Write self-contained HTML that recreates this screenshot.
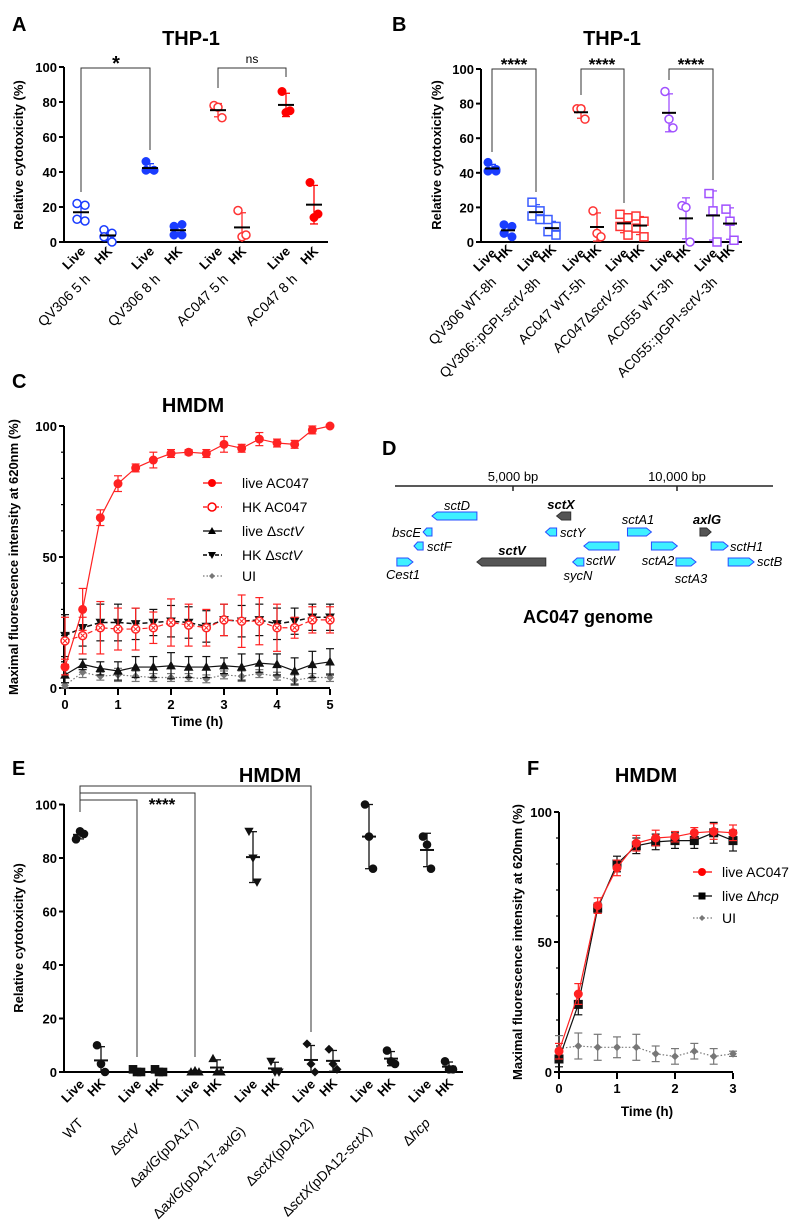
<!DOCTYPE html>
<html><head><meta charset="utf-8"><style>
body{margin:0;background:#fff}
svg{display:block;font-family:"Liberation Sans",Arial,sans-serif}
.b{font-weight:bold}
.t{font-size:13px;font-weight:bold}
.g{font-size:14px}
</style></head><body>
<svg id="fig" width="800" height="1229" viewBox="0 0 800 1229">
<text x="12" y="31" font-size="20" class="b">A</text>
<text x="191" y="45" font-size="20" class="b" text-anchor="middle">THP-1</text>
<text x="392" y="31" font-size="20" class="b">B</text>
<text x="612" y="45" font-size="20" class="b" text-anchor="middle">THP-1</text>
<text x="12" y="388" font-size="20" class="b">C</text>
<text x="193" y="412" font-size="20" class="b" text-anchor="middle">HMDM</text>
<text x="382" y="455" font-size="20" class="b">D</text>
<text x="12" y="775" font-size="20" class="b">E</text>
<text x="270" y="782" font-size="20" class="b" text-anchor="middle">HMDM</text>
<text x="527" y="775" font-size="20" class="b">F</text>
<text x="646" y="782" font-size="20" class="b" text-anchor="middle">HMDM</text>

<text transform="translate(23,155) rotate(-90)" font-size="13" class="b" text-anchor="middle">Relative cytotoxicity (%)</text>
<text transform="translate(441,155) rotate(-90)" font-size="13" class="b" text-anchor="middle">Relative cytotoxicity (%)</text>
<text transform="translate(18,557) rotate(-90)" font-size="13" class="b" text-anchor="middle">Maximal fluorescence intensity at 620nm (%)</text>
<text x="197" y="726" font-size="13.5" class="b" text-anchor="middle">Time (h)</text>
<text transform="translate(23,938) rotate(-90)" font-size="13" class="b" text-anchor="middle">Relative cytotoxicity (%)</text>
<text transform="translate(522,942) rotate(-90)" font-size="13" class="b" text-anchor="middle">Maximal fluorescence intensity at 620nm (%)</text>
<text x="647" y="1116" font-size="13.5" class="b" text-anchor="middle">Time (h)</text>

<g class="g" text-anchor="end">
<text transform="translate(91,280) rotate(-45)">QV306 5 h</text>
<text transform="translate(161,280) rotate(-45)">QV306 8 h</text>
<text transform="translate(229,280) rotate(-45)">AC047 5 h</text>
<text transform="translate(298,280) rotate(-45)">AC047 8 h</text>
</g>
<g class="g" text-anchor="end">
<text transform="translate(497,283) rotate(-45)">QV306 WT-8h</text>
<text transform="translate(541,283) rotate(-45)">QV306::pGPI-<tspan font-style="italic">sctV</tspan>-8h</text>
<text transform="translate(586,283) rotate(-45)">AC047 WT-5h</text>
<text transform="translate(629,283) rotate(-45)">AC047Δ<tspan font-style="italic">sctV</tspan>-5h</text>
<text transform="translate(674,283) rotate(-45)">AC055 WT-3h</text>
<text transform="translate(718,283) rotate(-45)">AC055::pGPI-<tspan font-style="italic">sctV</tspan>-3h</text>
</g>
<g class="g" text-anchor="end">
<text transform="translate(84,1124) rotate(-45)">WT</text>
<text transform="translate(141,1130) rotate(-45)">Δ<tspan font-style="italic">sctV</tspan></text>
<text transform="translate(199,1124) rotate(-45)">Δ<tspan font-style="italic">axlG</tspan>(pDA17)</text>
<text transform="translate(246,1132) rotate(-45)">Δ<tspan font-style="italic">axlG</tspan>(pDA17-<tspan font-style="italic">axlG</tspan>)</text>
<text transform="translate(314,1124) rotate(-45)">Δ<tspan font-style="italic">sctX</tspan>(pDA12)</text>
<text transform="translate(373,1132) rotate(-45)">Δ<tspan font-style="italic">sctX</tspan>(pDA12-<tspan font-style="italic">sctX</tspan>)</text>
<text transform="translate(431,1124) rotate(-45)">Δ<tspan font-style="italic">hcp</tspan></text>
</g>

<g fill="none" stroke="#333" stroke-width="1">
<polyline points="81,192 81,68 150,68 150,150"/>
<polyline points="218,88 218,68 286,68 286,77"/>
</g>
<text x="116" y="70" font-size="20" class="b" text-anchor="middle">*</text>
<text x="252" y="63" font-size="12" text-anchor="middle">ns</text>
<g fill="none" stroke="#333" stroke-width="1">
<polyline points="492,152 492,69 536,69 536,192"/>
<polyline points="581,95 581,69 624,69 624,203"/>
<polyline points="669,80 669,69 713,69 713,180"/>
</g>
<g font-size="17" class="b" text-anchor="middle">
<text x="514" y="70">****</text><text x="602" y="70">****</text><text x="691" y="70">****</text>
</g>
<g fill="none" stroke="#333" stroke-width="1">
<polyline points="80,812 80,786 311,786 311,1032"/>
<polyline points="80,793 195,793 195,1057"/>
<polyline points="80,800 137,800 137,1057"/>
</g>
<text x="162" y="810" font-size="17" class="b" text-anchor="middle">****</text>

<g font-size="14">
<line x1="203" y1="483" x2="222" y2="483" stroke="#f00" stroke-width="1.2"/><circle cx="212" cy="483" r="4" fill="#f00"/><text x="242" y="488">live AC047</text>
<line x1="203" y1="507" x2="222" y2="507" stroke="#f00" stroke-width="1.2" stroke-dasharray="4,2"/><circle cx="212" cy="507" r="4" fill="#fff" stroke="#f00" stroke-width="1.5"/><text x="242" y="512">HK AC047</text>
<line x1="203" y1="531" x2="222" y2="531" stroke="#000" stroke-width="1.2"/><path d="M212,527 l4,7 h-8z" fill="#000"/><text x="242" y="536">live Δ<tspan font-style="italic">sctV</tspan></text>
<line x1="203" y1="555" x2="222" y2="555" stroke="#000" stroke-width="1.5" stroke-dasharray="4,2"/><path d="M212,559 l4,-7 h-8z" fill="#000"/><text x="242" y="560">HK Δ<tspan font-style="italic">sctV</tspan></text>
<line x1="203" y1="576" x2="222" y2="576" stroke="#777" stroke-width="1.2" stroke-dasharray="1.5,2"/><path d="M212,573 l3,3 -3,3 -3,-3z" fill="#777"/><text x="242" y="581">UI</text>
</g>
<g font-size="14">
<line x1="693" y1="872" x2="712" y2="872" stroke="#f00" stroke-width="1.2"/><circle cx="702" cy="872" r="4" fill="#f00"/><text x="722" y="877">live AC047</text>
<line x1="693" y1="896" x2="712" y2="896" stroke="#000" stroke-width="1.2"/><rect x="698.5" y="892.5" width="7" height="7" fill="#000"/><text x="722" y="901">live Δ<tspan font-style="italic">hcp</tspan></text>
<line x1="693" y1="918" x2="712" y2="918" stroke="#777" stroke-width="1.2" stroke-dasharray="1.5,2"/><path d="M702,915 l3,3 -3,3 -3,-3z" fill="#777"/><text x="722" y="923">UI</text>
</g>

<g>
<line x1="395" y1="486" x2="773" y2="486" stroke="#222" stroke-width="1.5"/>
<line x1="513" y1="486" x2="513" y2="491" stroke="#222" stroke-width="1.5"/>
<line x1="677" y1="486" x2="677" y2="491" stroke="#222" stroke-width="1.5"/>
<text x="513" y="481" font-size="13" text-anchor="middle">5,000 bp</text>
<text x="677" y="481" font-size="13" text-anchor="middle">10,000 bp</text>
<g id="genes"></g>
<g font-size="13" font-style="italic">
<text x="457" y="510" text-anchor="middle">sctD</text>
<text x="561" y="509" text-anchor="middle" font-weight="bold">sctX</text>
<text x="421" y="537" text-anchor="end">bscE</text>
<text x="427" y="551">sctF</text>
<text x="403" y="579" text-anchor="middle">Cest1</text>
<text x="512" y="555" text-anchor="middle" font-weight="bold">sctV</text>
<text x="560" y="537">sctY</text>
<text x="638" y="524" text-anchor="middle">sctA1</text>
<text x="707" y="524" text-anchor="middle" font-weight="bold">axlG</text>
<text x="586" y="565">sctW</text>
<text x="578" y="580" text-anchor="middle">sycN</text>
<text x="658" y="565" text-anchor="middle">sctA2</text>
<text x="691" y="583" text-anchor="middle">sctA3</text>
<text x="730" y="551">sctH1</text>
<text x="757" y="566">sctB</text>
</g>
<text x="588" y="623" font-size="18" class="b" text-anchor="middle">AC047 genome</text>
</g>
<g id="marks"></g>
</svg>
<script>
const aGroups = ["QV306 5 h live","QV306 5 h HK","QV306 8 h live","QV306 8 h HK","AC047 5 h live","AC047 5 h HK","AC047 8 h live","AC047 8 h HK"];
const aValues = [[22,21,13,12],[7,5,3,0],[46,41,41,41],[9,10,4,4],[78,77,71],[18,3,4],[86,74,75],[34,14,16]];
const aColors = ["#1a3cff","#1a3cff","#1a3cff","#1a3cff","#f33","#f33","#f00","#f00"];
const aFilled = [0,0,1,1,0,0,1,1];
const aTicks = [0,20,40,60,80,100];
const bGroups = ["QV306 WT live","QV306 WT HK","QV306 pGPI live","QV306 pGPI HK","AC047 WT live","AC047 WT HK","AC047 dsctV live","AC047 dsctV HK","AC055 WT live","AC055 WT HK","AC055 pGPI live","AC055 pGPI HK"];
const bValues = [[46,41,41,42],[10,9,5,3],[23,18,15,13],[13,9,6,4],[77,77,71],[18,5,3],[16,14,9,4],[15,12,8,3],[87,71,66],[21,20,0],[28,18,0],[19,12,1]];
const bColors = ["#1a3cff","#1a3cff","#3a5cff","#3a5cff","#f33","#f33","#f33","#f33","#a050ff","#a050ff","#a050ff","#a050ff"];
const bShapes = ["fc","fc","os","os","oc","oc","os","os","oc","oc","os","os"];
const bTicks = [0,20,40,60,80,100];
const cTimes = [0,0.333,0.667,1,1.333,1.667,2,2.333,2.667,3,3.333,3.667,4,4.333,4.667,5];
const cLiveAC047 = [8,30,65,78,84,87,89.5,90,89.5,93,91.5,95,93.5,93,98.5,100];
const cLiveAC047Err = [3,8,3,3,1.5,3,1.5,1,1.5,3,1.5,2.5,1.5,1.5,1.5,0];
const cHKAC047 = [18,20,23,22.5,22.5,23,25,24,23,26,25.5,25.5,23,23,26,26];
const cHKAC047Err = [9,7,10,8,8,6,9,8,7,6,10,9,9,4,5,5];
const cLiveSctV = [5,9,7.5,6.5,8,8,8.5,8,8,8.5,8,9.5,9,6.5,9,10];
const cLiveSctVErr = [3,2,2.5,3.5,4,4,5,4,4,3,5,3.5,4,5,5,5];
const cHKSctV = [20,23,25,25,24.5,25,25.5,25,23.5,26,25.5,26,24.5,25.5,27,27];
const cHKSctVErr = [8,7,7,7,6,5,6,6,6,6,6,6,6,5,5,5];
const cUI = [1,6,4.5,5,4.5,4,4,4,3.5,5,4.5,5.5,4.5,3,4,4];
const cUIErr = [1,2,1.5,2.5,2,1.5,1.5,1.5,1.5,1.5,2,1.5,1.5,2,1.5,1.5];
const cXTicks = [0,1,2,3,4,5];
const cYTicks = [0,50,100];
const dGenes = ["sctD","bscE","sctF","Cest1","sctV","sctX","sctY","sctW","sycN","sctA1","sctA2","sctA3","axlG","sctH1","sctB"];
const dStart = [2530,2260,1980,1460,3900,6330,5990,7160,6820,8490,9220,9970,10700,11040,11560];
const dEnd = [3900,2530,2260,1950,6000,6760,6330,8230,7160,9220,10010,10580,11040,11560,12350];
const dStrand = [-1,-1,-1,1,-1,-1,-1,-1,-1,1,1,1,1,1,1];
const dRow = [0,1,2,3,3,0,1,2,3,1,2,3,1,2,3];
const dHighlight = [0,0,0,0,1,1,0,0,0,0,0,0,1,0,0];
const eGroups = ["WT live","WT HK","sctV live","sctV HK","pDA17 live","pDA17 HK","pDA17-axlG live","pDA17-axlG HK","pDA12 live","pDA12 HK","pDA12-sctX live","pDA12-sctX HK","hcp live","hcp HK"];
const eValues = [[87,90,89],[10,3,0],[1,0,0],[1,0,0],[0,0.5,0],[5,0,0],[90,80,71],[4,0,0],[10.5,3,0],[8.5,3,1],[100,88,76],[8,4,3],[88,85,76],[4,1,1]];
const eShapes = ["fc","fc","fs","fs","tu","tu","td","td","fd","fd","fc","fc","fc","fc"];
const eTicks = [0,20,40,60,80,100];
const fTimes = [0,0.333,0.667,1,1.333,1.667,2,2.333,2.667,3];
const fLiveAC047 = [8,30,64,78.5,88,90,90.5,92,92.5,92];
const fLiveAC047Err = [3,4,3,3,3,3,2,2,3,3];
const fLiveHcp = [5,26,63,80,87,88.5,89,89,92,89];
const fLiveHcpErr = [3,4,2,3,3,3,3,3,4,4];
const fUI = [9,10,9.5,9.5,9.5,7,6,8,6,7];
const fUIErr = [5,5,5,4,5,3,3,3,3,1];
const fXTicks = [0,1,2,3];
const fYTicks = [0,50,100];

const NS = "http://www.w3.org/2000/svg";
const root = document.getElementById("marks");
function mk(tag, attrs, parent) {
  const e = document.createElementNS(NS, tag);
  for (const k in attrs) e.setAttribute(k, attrs[k]);
  (parent || root).appendChild(e);
  return e;
}
const yA = v => 242 - v * 1.75;
const yB = v => 242 - v * 1.73;
const yC = v => 688 - v * 2.62;
const xC = t => 65 + t * 53;
const yE = v => 1072 - v * 2.675;
const yF = v => 1072 - v * 2.6;
const xF = t => 559 + t * 58;
const xD = bp => 349 + bp * 0.0328;
const aX = [81,108,150,178,218,242,286,314];
const bX = [492,508,536,552,581,597,624,640,669,686,713,730];
const eX = [80,101,137,159,195,217,253,275,311,333,369,391,427,449];

function yAxis(name, x, yTop, yBot, ticks, yf, xEnd, minorStep, maxV) {
  const g = mk("g", {});
  
  
  mk("line", {x1: x, y1: yTop, x2: x, y2: yBot, stroke: "#000", "stroke-width": 2}, g);
  mk("line", {x1: x - 1, y1: yBot, x2: xEnd, y2: yBot, stroke: "#000", "stroke-width": 2}, g);
  if (minorStep) {
    for (let v = 0; v <= maxV; v += minorStep) mk("line", {x1: x - 3, y1: yf(v), x2: x, y2: yf(v), stroke: "#000", "stroke-width": 1.2}, g);
  }
  ticks.forEach(v => {
    mk("line", {x1: x - 5, y1: yf(v), x2: x, y2: yf(v), stroke: "#000", "stroke-width": 2}, g);
    const t = mk("text", {x: x - 7, y: yf(v) + 5, "text-anchor": "end", "font-size": 13, "font-weight": "bold"}, g);
    t.textContent = v;
  });
  return g;
}
function xTicks(name, xs, labels, y, xf) {
  const g = mk("g", {});
  
  
  labels.forEach(v => {
    mk("line", {x1: xf(v), y1: y, x2: xf(v), y2: y + 6, stroke: "#000", "stroke-width": 2}, g);
    const t = mk("text", {x: xf(v), y: y + 20, "text-anchor": "middle", "font-size": 13, "font-weight": "bold"}, g);
    t.textContent = v;
  });
}
function liveHK(name, xs, yBase, dyHK, dxHK) {
  const g = mk("g", {"font-size": 13, "font-weight": "bold", "text-anchor": "end"});
  
  
  xs.forEach((x, i) => {
    const live = i % 2 === 0;
    const t = mk("text", {transform: "translate(" + (x + (live ? 5 : 5 + dxHK)) + "," + (yBase + (live ? 0 : dyHK)) + ") rotate(-45)"}, g);
    t.textContent = live ? "Live" : "HK";
  });
}
function marker(shape, cx, cy, color, r, g, name) {
  let e;
  if (shape === "fc" || shape === "oc") e = mk("circle", {cx, cy, r}, g);
  else if (shape === "fs" || shape === "os") e = mk("rect", {x: cx - r, y: cy - r, width: 2 * r, height: 2 * r}, g);
  else if (shape === "tu") e = mk("path", {d: `M${cx},${cy - r} L${cx + r},${cy + r * 0.8} L${cx - r},${cy + r * 0.8}Z`}, g);
  else if (shape === "td") e = mk("path", {d: `M${cx},${cy + r} L${cx + r},${cy - r * 0.8} L${cx - r},${cy - r * 0.8}Z`}, g);
  else e = mk("path", {d: `M${cx},${cy - r} L${cx + r},${cy} L${cx},${cy + r} L${cx - r},${cy}Z`}, g);
  const open = shape[0] === "o";
  e.setAttribute("fill", open ? "#fff" : color);
  e.setAttribute("stroke", color);
  e.setAttribute("stroke-width", open ? 1.5 : 1);
  
  
  return e;
}
function stats(vals) {
  const m = vals.reduce((a, b) => a + b, 0) / vals.length;
  const sd = Math.sqrt(vals.reduce((a, b) => a + (b - m) * (b - m), 0) / (vals.length - 1));
  return [m, sd];
}
const jit4 = [-4, 4, -4, 4], jit3 = [-4, 0, 4];
function scatterGroup(prefix, x, vals, yf, color, shape, barColor, r, meanW) {
  const g = mk("g", {});
  
  
  const [m, sd] = stats(vals);
  mk("line", {x1: x, y1: yf(m + sd), x2: x, y2: Math.min(yf(Math.max(m - sd, 0)), yf(0)), stroke: color, "stroke-width": 1.3}, g);
  mk("line", {x1: x - 4, y1: yf(m + sd), x2: x + 4, y2: yf(m + sd), stroke: color, "stroke-width": 1.3}, g);
  if (m - sd > 0) mk("line", {x1: x - 4, y1: yf(m - sd), x2: x + 4, y2: yf(m - sd), stroke: color, "stroke-width": 1.3}, g);
  vals.forEach((v, i) => {
    const off = vals.length === 4 ? jit4[i] : jit3[i];
    marker(shape, x + off, yf(v), color, r, g, prefix + "-point");
  });
  const ml = mk("line", {x1: x - meanW, y1: yf(m), x2: x + meanW, y2: yf(m), stroke: barColor, "stroke-width": 2}, g);
  
  
}
yAxis("panel-a-y-axis", 64, 67, 242, aTicks, yA, 328);
liveHK("panel-a-x-labels", aX, 252, 0, 0);
aValues.forEach((vals, i) => scatterGroup("panel-a-" + aGroups[i].replace(/\s+/g, "-").toLowerCase(), aX[i], vals, yA, aColors[i], aFilled[i] ? "fc" : "oc", "#000", 4, 8));
yAxis("panel-b-y-axis", 481, 69, 242, bTicks, yB, 742);
liveHK("panel-b-x-labels", bX, 254, -4, 0);
bValues.forEach((vals, i) => scatterGroup("panel-b-" + bGroups[i].replace(/\s+/g, "-").toLowerCase(), bX[i], vals, yB, bColors[i], bShapes[i], "#000", 4, 7));
yAxis("panel-e-y-axis", 64, 804, 1072, eTicks, yE, 463);
liveHK("panel-e-x-labels", eX, 1085, -1, 0);
eValues.forEach((vals, i) => scatterGroup("panel-e-" + eGroups[i].replace(/\s+/g, "-").toLowerCase(), eX[i], vals, yE, "#111", eShapes[i], "#111", 3.8, 7));

function series(name, times, vals, errs, xf, yf, color, dash, shape, width) {
  const g = mk("g", {});
  
  
  times.forEach((t, i) => {
    const x = xf(t);
    mk("line", {x1: x, y1: yf(vals[i] + errs[i]), x2: x, y2: yf(Math.max(vals[i] - errs[i], 0)), stroke: color, "stroke-width": 1.2}, g);
    mk("line", {x1: x - 4, y1: yf(vals[i] + errs[i]), x2: x + 4, y2: yf(vals[i] + errs[i]), stroke: color, "stroke-width": 1.2}, g);
    mk("line", {x1: x - 4, y1: yf(Math.max(vals[i] - errs[i], 0)), x2: x + 4, y2: yf(Math.max(vals[i] - errs[i], 0)), stroke: color, "stroke-width": 1.2}, g);
  });
  const pl = mk("polyline", {points: times.map((t, i) => xf(t) + "," + yf(vals[i])).join(" "), fill: "none", stroke: color, "stroke-width": width, "stroke-dasharray": dash}, g);
  
  
  times.forEach((t, i) => {
    const r = shape === "dm" ? 3.2 : 4;
    marker(shape === "dm" ? "fd" : shape, xf(t), yf(vals[i]), color, r, g, name + "-point");
    if (shape === "oc") {
      const x = xf(t), y = yf(vals[i]);
      mk("path", {d: `M${x - 2},${y - 2}L${x + 2},${y + 2}M${x - 2},${y + 2}L${x + 2},${y - 2}`, stroke: color, "stroke-width": 1}, g);
    }
  });
}
yAxis("panel-c-y-axis", 64, 426, 688, cYTicks, yC, 330, 10, 100);
xTicks("panel-c-x-ticks", null, cXTicks, 689, xC);
series("panel-c-ui", cTimes, cUI, cUIErr, xC, yC, "#777", "1.5,2", "dm", 1.2);
series("panel-c-live-sctv", cTimes, cLiveSctV, cLiveSctVErr, xC, yC, "#111", "none", "tu", 1.2);
series("panel-c-hk-sctv", cTimes, cHKSctV, cHKSctVErr, xC, yC, "#111", "5,3", "td", 1.5);
series("panel-c-hk-ac047", cTimes, cHKAC047, cHKAC047Err, xC, yC, "#f22", "5,3", "oc", 1.2);
series("panel-c-live-ac047", cTimes, cLiveAC047, cLiveAC047Err, xC, yC, "#f22", "none", "fc", 1.2);
yAxis("panel-f-y-axis", 559, 812, 1072, fYTicks, yF, 733, 10, 100);
xTicks("panel-f-x-ticks", null, fXTicks, 1073, xF);
series("panel-f-ui", fTimes, fUI, fUIErr, xF, yF, "#777", "1.5,2", "dm", 1.2);
series("panel-f-live-hcp", fTimes, fLiveHcp, fLiveHcpErr, xF, yF, "#111", "none", "fs", 1.2);
series("panel-f-live-ac047", fTimes, fLiveAC047, fLiveAC047Err, xF, yF, "#f22", "none", "fc", 1.2);
const gg = document.getElementById("genes");
const rowY = [516, 532, 546, 562];
dGenes.forEach((name, i) => {
  const x1 = xD(dStart[i]), x2 = xD(dEnd[i]), y = rowY[dRow[i]], h = 4;
  const tip = Math.min(5, (x2 - x1) * 0.4);
  const d = dStrand[i] > 0
    ? `M${x1},${y - h} L${x2 - tip},${y - h} L${x2},${y} L${x2 - tip},${y + h} L${x1},${y + h}Z`
    : `M${x2},${y - h} L${x1 + tip},${y - h} L${x1},${y} L${x1 + tip},${y + h} L${x2},${y + h}Z`;
  const p = mk("path", {d, fill: dHighlight[i] ? "#555" : "#3ef0ff", stroke: dHighlight[i] ? "#333" : "#2a4cff", "stroke-width": 1}, gg);
  
  
});
</script>
</body></html>
